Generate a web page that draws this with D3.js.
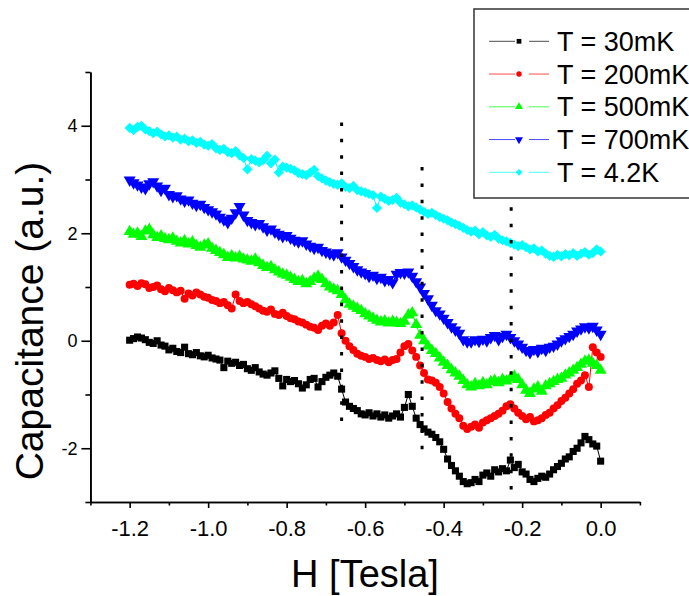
<!DOCTYPE html>
<html><head><meta charset="utf-8">
<script src="https://cdn.jsdelivr.net/npm/d3@7"></script>
<style>body{margin:0;background:#fff}svg{display:block}text{font-family:"Liberation Sans",Arial,sans-serif}</style>
</head><body><svg id="c" width="689" height="596"></svg>
<script>
// ---- data ----
const fieldH = [-1.20,-1.19,-1.18,-1.17,-1.16,-1.15,-1.14,-1.13,-1.12,-1.11,
 -1.10,-1.09,-1.08,-1.07,-1.06,-1.05,-1.04,-1.03,-1.02,-1.01,
 -1.00,-0.99,-0.98,-0.97,-0.96,-0.95,-0.94,-0.93,-0.92,-0.91,
 -0.90,-0.89,-0.88,-0.87,-0.86,-0.85,-0.84,-0.83,-0.82,-0.81,
 -0.80,-0.79,-0.78,-0.77,-0.76,-0.75,-0.74,-0.73,-0.72,-0.71,
 -0.70,-0.69,-0.68,-0.67,-0.66,-0.65,-0.64,-0.63,-0.62,-0.61,
 -0.60,-0.59,-0.58,-0.57,-0.56,-0.55,-0.54,-0.53,-0.52,-0.51,
 -0.50,-0.49,-0.48,-0.47,-0.46,-0.45,-0.44,-0.43,-0.42,-0.41,
 -0.40,-0.39,-0.38,-0.37,-0.36,-0.35,-0.34,-0.33,-0.32,-0.31,
 -0.30,-0.29,-0.28,-0.27,-0.26,-0.25,-0.24,-0.23,-0.22,-0.21,
 -0.20,-0.19,-0.18,-0.17,-0.16,-0.15,-0.14,-0.13,-0.12,-0.11,
 -0.10,-0.09,-0.08,-0.07,-0.06,-0.05,-0.04,-0.03,-0.02,-0.01,0.00];

const cap30mK = [0.01,0.04,0.07,0.05,0.02,-0.03,-0.05,0.00,-0.08,-0.10,
 -0.17,-0.14,-0.20,-0.22,-0.12,-0.24,-0.26,-0.22,-0.28,-0.30,
 -0.27,-0.32,-0.34,-0.36,-0.50,-0.38,-0.42,-0.40,-0.46,-0.44,
 -0.52,-0.55,-0.50,-0.58,-0.62,-0.64,-0.60,-0.56,-0.70,-0.84,
 -0.72,-0.76,-0.74,-0.80,-0.88,-0.82,-0.72,-0.70,-0.86,-0.76,
 -0.68,-0.64,-0.60,-0.66,-0.90,-1.14,-1.22,-1.26,-1.30,-1.36,
 -1.38,-1.34,-1.40,-1.36,-1.42,-1.38,-1.44,-1.40,-1.36,-1.42,
 -1.24,-1.00,-1.22,-1.44,-1.56,-1.64,-1.70,-1.74,-1.80,-1.88,
 -2.02,-2.20,-2.32,-2.42,-2.52,-2.62,-2.66,-2.64,-2.58,-2.62,
 -2.50,-2.46,-2.52,-2.40,-2.44,-2.38,-2.42,-2.22,-2.36,-2.30,
 -2.44,-2.48,-2.58,-2.62,-2.56,-2.52,-2.54,-2.48,-2.40,-2.34,
 -2.28,-2.20,-2.16,-2.06,-2.00,-1.90,-1.78,-1.84,-1.92,-1.96,-2.24];

const cap200mK = [1.04,1.06,1.02,1.07,1.05,0.98,1.00,1.03,0.96,0.92,
 0.98,0.94,0.90,0.93,0.78,0.88,0.84,0.90,0.86,0.82,
 0.80,0.76,0.74,0.70,0.72,0.66,0.60,0.86,0.74,0.70,
 0.72,0.68,0.64,0.60,0.56,0.54,0.58,0.50,0.48,0.52,
 0.46,0.42,0.40,0.36,0.34,0.30,0.26,0.24,0.20,0.28,
 0.32,0.28,0.34,0.48,0.14,0.00,-0.10,-0.17,-0.24,-0.28,
 -0.30,-0.34,-0.32,-0.36,-0.38,-0.35,-0.40,-0.36,-0.34,-0.22,
 -0.10,-0.06,-0.18,-0.30,-0.46,-0.60,-0.72,-0.74,-0.78,-0.86,
 -0.98,-1.14,-1.26,-1.36,-1.44,-1.58,-1.64,-1.60,-1.56,-1.62,
 -1.52,-1.48,-1.44,-1.40,-1.36,-1.30,-1.22,-1.18,-1.26,-1.34,
 -1.40,-1.46,-1.42,-1.50,-1.48,-1.44,-1.38,-1.34,-1.26,-1.20,
 -1.12,-1.06,-0.98,-0.90,-0.80,-0.74,-0.64,-0.86,-0.12,-0.22,-0.30];

const cap500mK = [2.03,1.98,2.00,1.94,2.04,2.07,1.97,1.92,1.95,1.90,
 1.88,1.91,1.85,1.82,1.86,1.80,1.84,1.77,1.74,1.78,
 1.80,1.72,1.68,1.64,1.60,1.55,1.58,1.54,1.57,1.52,
 1.50,1.48,1.52,1.45,1.40,1.36,1.38,1.32,1.28,1.24,
 1.22,1.18,1.14,1.10,1.12,1.06,1.10,1.16,1.20,1.14,
 1.06,1.00,0.96,0.93,0.86,0.76,0.68,0.64,0.60,0.56,
 0.50,0.46,0.42,0.38,0.35,0.37,0.33,0.36,0.34,0.32,
 0.36,0.48,0.52,0.30,0.10,0.00,-0.10,-0.18,-0.24,-0.32,
 -0.40,-0.46,-0.54,-0.60,-0.66,-0.74,-0.82,-0.86,-0.80,-0.84,
 -0.78,-0.82,-0.76,-0.74,-0.78,-0.72,-0.75,-0.70,-0.66,-0.72,
 -0.82,-0.92,-0.98,-0.90,-0.86,-0.94,-0.84,-0.80,-0.76,-0.72,
 -0.70,-0.64,-0.60,-0.55,-0.50,-0.44,-0.38,-0.36,-0.42,-0.46,-0.55];

const cap700mK = [2.99,2.94,2.90,2.86,2.83,2.92,2.96,2.88,2.80,2.84,
 2.72,2.68,2.70,2.64,2.60,2.62,2.56,2.52,2.54,2.48,
 2.44,2.40,2.36,2.30,2.25,2.20,2.28,2.38,2.50,2.34,
 2.24,2.20,2.16,2.18,2.12,2.06,2.08,2.02,1.98,1.94,
 1.96,1.91,1.87,1.84,1.86,1.80,1.76,1.72,1.74,1.68,
 1.65,1.62,1.60,1.64,1.56,1.50,1.44,1.38,1.32,1.28,
 1.25,1.20,1.22,1.16,1.18,1.12,1.14,1.08,1.24,1.27,
 1.26,1.28,1.20,1.10,1.00,0.88,0.78,0.66,0.56,0.50,
 0.42,0.34,0.26,0.20,0.14,0.02,-0.02,-0.02,0.02,-0.01,
 0.03,0.00,0.06,0.10,0.02,0.08,0.12,0.06,0.00,-0.06,
 -0.12,-0.18,-0.22,-0.16,-0.20,-0.14,-0.18,-0.12,-0.10,-0.06,
 0.00,0.04,0.08,0.12,0.18,0.22,0.26,0.24,0.27,0.20,0.12];

const cap4K = [3.96,3.92,3.98,4.00,3.93,3.90,3.86,3.89,3.84,3.80,
 3.82,3.78,3.80,3.74,3.76,3.71,3.73,3.68,3.70,3.65,
 3.63,3.66,3.58,3.55,3.57,3.51,3.49,3.53,3.45,3.40,
 3.19,3.38,3.35,3.32,3.36,3.44,3.30,3.37,3.13,3.24,
 3.22,3.20,3.17,3.12,3.10,3.08,3.13,3.18,3.06,3.02,
 2.98,2.95,2.92,2.90,2.93,2.86,2.84,2.88,2.80,2.78,
 2.76,2.73,2.71,2.47,2.68,2.64,2.60,2.62,2.66,2.57,
 2.54,2.50,2.52,2.48,2.44,2.40,2.36,2.38,2.34,2.30,
 2.27,2.24,2.20,2.17,2.14,2.10,2.06,2.03,2.05,1.98,
 2.02,1.96,1.93,1.97,1.90,1.87,1.85,1.82,1.79,1.76,
 1.78,1.74,1.70,1.72,1.66,1.68,1.62,1.58,1.56,1.60,
 1.57,1.61,1.59,1.63,1.58,1.62,1.65,1.60,1.63,1.70,1.66];

const seriesNames = ["T = 30mK","T = 200mK","T = 500mK","T = 700mK","T = 4.2K"];
const seriesValues = [cap30mK, cap200mK, cap500mK, cap700mK, cap4K];

const xMajorTicks = [-1.2,-1.0,-0.8,-0.6,-0.4,-0.2,0.0];
const xTickLabels = ["-1.2","-1.0","-0.8","-0.6","-0.4","-0.2","0.0"];
const xMinorTicks = [-1.3,-1.1,-0.9,-0.7,-0.5,-0.3,-0.1,0.1];
const yMajorTicks = [-2,0,2,4];
const yTickLabels = ["-2","0","2","4"];
const yMinorTicks = [-3,-1,1,3,5];

// vertical dotted guide lines
const guideH = [-0.66, -0.455, -0.228];
const guideTop = [4.03, 3.20, 2.45];
const guideBottom = [-1.50, -2.02, -2.77];

// ---- styles ----
const colors = ["#000000","#ff0000","#00ff00","#0000ff","#00ffff"];
const symbols = [
  {type:d3.symbolSquare, size:50, rot:0},
  {type:d3.symbolCircle, size:50, rot:0},
  {type:d3.symbolTriangle, size:62, rot:0},
  {type:d3.symbolTriangle, size:62, rot:180},
  {type:d3.symbolSquare, size:52, rot:45}
];
const legendSymbolScale = 0.45;

const svg = d3.select("#c");
const x = d3.scaleLinear().domain([-1.3, 0.1]).range([90.4, 639.9]);
const y = d3.scaleLinear().domain([-3, 5]).range([502, 72]);

// ---- series ----
const lineGen = d3.line().x((d,i)=>x(fieldH[i])).y(d=>y(d));
seriesValues.forEach((vals, s) => {
  const g = svg.append("g");
  g.append("path").attr("d", lineGen(vals)).attr("fill","none")
    .attr("stroke", colors[s]).attr("stroke-width", 1);
  const sym = d3.symbol().type(symbols[s].type).size(symbols[s].size);
  g.selectAll("path.m").data(vals).join("path").attr("class","m")
    .attr("d", sym)
    .attr("transform", (d,i)=>`translate(${x(fieldH[i])},${y(d)}) rotate(${symbols[s].rot})`)
    .attr("fill", colors[s]);
});

// ---- guides ----
guideH.forEach((h, i) => {
  svg.append("line")
    .attr("x1", x(h)).attr("x2", x(h))
    .attr("y1", y(guideTop[i]) - 1.75).attr("y2", y(guideBottom[i]) + 2)
    .attr("stroke", "#000").attr("stroke-width", 3)
    .attr("stroke-dasharray", "3.5,12.9");
});

// ---- axes ----
const axisStyle = g => {
  g.selectAll(".domain").attr("stroke","#000").attr("stroke-width",1.6);
  g.selectAll(".tick line").attr("stroke","#000").attr("stroke-width",1.6);
};
const gxMinor = svg.append("g").attr("transform",`translate(0,${y(-3)})`)
  .call(d3.axisBottom(x).tickValues(xMinorTicks).tickFormat("").tickSize(3.5).tickSizeOuter(0));
gxMinor.call(axisStyle);
const gx = svg.append("g").attr("transform",`translate(0,${y(-3)})`)
  .call(d3.axisBottom(x).tickValues(xMajorTicks).tickFormat((d,i)=>xTickLabels[i]).tickSize(6).tickSizeOuter(0).tickPadding(12));
gx.call(axisStyle);
gx.selectAll(".tick text").attr("font-size", 22).attr("fill","#000")
  .style("font-family",'"Liberation Sans",Arial,sans-serif');

const gyMinor = svg.append("g").attr("transform",`translate(${x(-1.3)},0)`)
  .call(d3.axisLeft(y).tickValues(yMinorTicks).tickFormat("").tickSize(5).tickSizeOuter(0));
gyMinor.call(axisStyle);
const gy = svg.append("g").attr("transform",`translate(${x(-1.3)},0)`)
  .call(d3.axisLeft(y).tickValues(yMajorTicks).tickFormat((d,i)=>yTickLabels[i]).tickSize(9).tickSizeOuter(0).tickPadding(4));
gy.call(axisStyle);
gy.selectAll(".tick text").attr("font-size", 18).attr("fill","#000")
  .style("font-family",'"Liberation Sans",Arial,sans-serif');

// ---- axis titles ----
svg.append("text").attr("x", 365).attr("y", 587).attr("text-anchor","middle")
  .attr("font-size", 38).attr("fill","#000").text("H [Tesla]");
svg.append("text").attr("transform","translate(43,321) rotate(-90)")
  .attr("text-anchor","middle").attr("font-size", 39).attr("fill","#000")
  .text("Capacitance (a.u.)");

// ---- legend ----
const lg = svg.append("g");
lg.append("rect").attr("x",474).attr("y",9).attr("width",240).attr("height",189)
  .attr("fill","#fff").attr("stroke","#333").attr("stroke-width",1.5);
seriesNames.forEach((name, s) => {
  const cy = 41.3 + s*32.75;
  lg.append("line").attr("x1",489).attr("x2",515).attr("y1",cy).attr("y2",cy)
    .attr("stroke",colors[s]).attr("stroke-width",1).attr("opacity",0.7);
  lg.append("line").attr("x1",529).attr("x2",549).attr("y1",cy).attr("y2",cy)
    .attr("stroke",colors[s]).attr("stroke-width",1).attr("opacity",0.7);
  const sym = d3.symbol().type(symbols[s].type).size(symbols[s].size*legendSymbolScale);
  lg.append("path").attr("d", sym)
    .attr("transform",`translate(519,${cy}) rotate(${symbols[s].rot})`)
    .attr("fill", colors[s]);
  lg.append("text").attr("x",557).attr("y",cy+9.5).attr("font-size",27)
    .attr("fill","#000").text(name);
});
</script></body></html>
